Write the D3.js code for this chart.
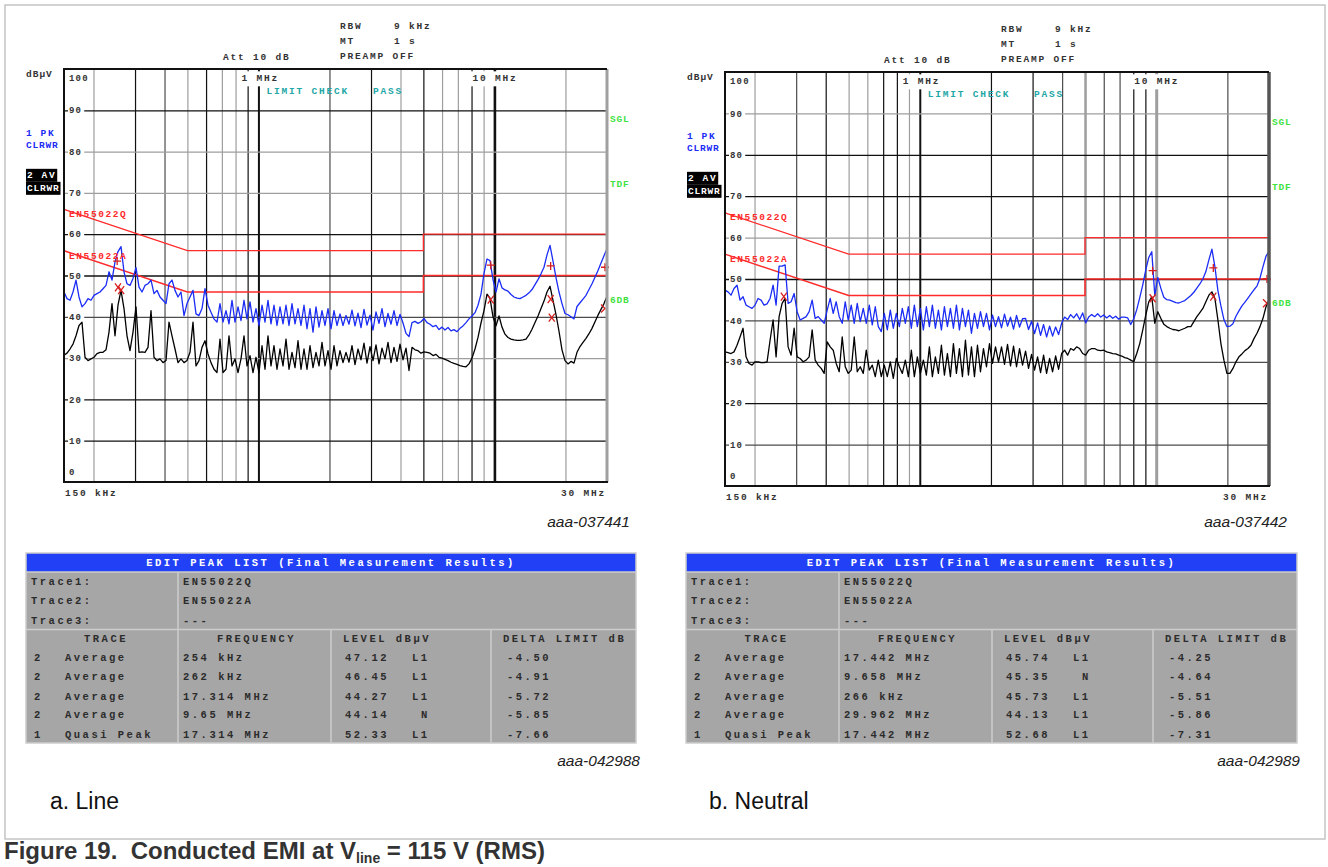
<!DOCTYPE html>
<html>
<head>
<meta charset="utf-8">
<script src="https://cdn.jsdelivr.net/npm/d3@7"></script>
<style>
  html, body { margin: 0; padding: 0; background: #fff; }
  svg { display: block; }
</style>
</head>
<body>
<svg id="fig" width="1328" height="867"></svg>
<script>
// ---------------------------------------------------------------------------
// Sweep settings of the receiver (log-spaced sweep points, 150 kHz .. 30 MHz)
// ---------------------------------------------------------------------------
const sweepStartMHz = 0.15;
const sweepStopMHz = 30;

// Grid: level lines (dBµV) and frequency lines (MHz)
const gridLevels = [10, 20, 30, 40, 50, 60, 70, 80, 90];
const levelLabels = [0, 10, 20, 30, 40, 50, 60, 70, 80, 90, 100];
const gridFreqs = [0.2, 0.3, 0.4, 0.5, 0.6, 0.7, 0.8, 0.9, 1, 2, 3, 4, 5, 6, 7, 8, 9, 10, 20];

// EN 55022 class B limits
const limitQFreq = [0.15, 0.5, 5, 5, 30];
const limitQLevel = [66, 56, 56, 60, 60];
const limitAFreq = [0.15, 0.5, 5, 5, 30];
const limitALevel = [56, 46, 46, 50, 50];

// Line: trace 1 (peak, blue) and trace 2 (average, black), one value per sweep point
const lineTracePeak = [
  46.0, 44.4, 44.0, 46.0, 48.9, 44.8, 42.4, 43.2, 44.4, 44.0,
  45.2, 45.6, 46.0, 46.8, 47.6, 50.9, 48.9, 53.3, 55.8, 57.0,
  50.9, 48.0, 47.6, 49.3, 51.9, 47.2, 46.0, 47.6, 48.0, 48.9,
  45.6, 46.4, 44.8, 44.0, 43.2, 48.0, 48.9, 46.4, 44.8, 46.0,
  40.3, 43.2, 44.8, 46.4, 40.7, 40.3, 42.0, 46.8, 42.8, 41.1,
  39.5, 38.7, 43.2, 38.7, 41.5, 38.3, 44.0, 38.7, 42.4, 39.1,
  44.0, 39.5, 43.6, 38.7, 42.0, 37.9, 42.8, 38.7, 44.0, 38.3,
  42.8, 37.9, 42.4, 38.3, 42.8, 37.9, 43.2, 38.3, 42.0, 37.9,
  42.8, 37.1, 42.0, 36.3, 42.4, 37.5, 41.5, 37.9, 42.0, 37.1,
  41.5, 37.9, 40.7, 37.9, 40.3, 38.2, 41.6, 37.8, 40.9, 37.4,
  41.8, 38.0, 40.4, 36.8, 41.2, 38.4, 42.0, 37.6, 40.8, 38.2,
  41.5, 37.9, 40.6, 38.5, 36.0, 35.2, 38.6, 38.9, 38.4, 38.8,
  39.6, 38.6, 38.2, 37.6, 37.9, 36.9, 37.5, 36.8, 37.4, 36.6,
  36.9, 36.4, 37.2, 37.8, 38.6, 39.5, 40.2, 41.0, 42.8, 45.5,
  50.5, 54.0, 53.6, 49.0, 46.0, 49.2, 47.0, 46.5, 46.2, 45.4,
  44.8, 44.5, 44.4, 44.8, 45.2, 45.8, 46.6, 47.8, 49.0, 50.4,
  52.0, 55.0, 57.3, 53.5, 49.5, 46.0, 43.2, 40.8, 40.5, 40.0,
  39.5, 42.5, 43.4, 44.3, 45.2, 46.6, 48.0, 49.6, 51.2, 53.0, 54.8, 56.5
];
const lineTraceAvg = [
  30.7, 31.2, 32.2, 33.4, 35.4, 37.9, 38.7, 30.2, 29.4, 29.8,
  30.2, 31.1, 31.4, 31.4, 32.0, 36.3, 43.2, 35.4, 42.8, 46.4,
  42.0, 35.4, 31.8, 36.3, 42.4, 31.4, 31.5, 31.4, 32.6, 41.5,
  30.2, 29.4, 29.8, 28.9, 29.4, 38.7, 35.4, 32.2, 28.9, 29.8,
  28.9, 29.4, 31.4, 38.7, 28.1, 29.4, 32.6, 34.2, 31.0, 28.9,
  27.3, 26.5, 34.6, 26.5, 27.3, 35.4, 28.1, 29.8, 26.5, 29.8,
  35.4, 28.1, 30.6, 26.5, 30.2, 26.5, 33.0, 27.3, 35.4, 28.1,
  33.0, 27.3, 32.2, 28.1, 34.6, 27.3, 31.4, 27.7, 34.2, 27.3,
  32.2, 27.3, 33.0, 27.7, 31.4, 28.1, 33.8, 28.1, 31.8, 27.3,
  33.0, 28.1, 31.8, 28.9, 31.4, 29.0, 33.0, 28.4, 32.2, 29.6,
  33.6, 28.8, 32.8, 29.4, 33.2, 28.6, 32.4, 29.8, 33.8, 28.9,
  32.6, 29.2, 33.4, 29.6, 32.4, 27.0, 32.6, 32.0, 31.8, 31.2,
  31.5, 31.4, 31.2, 30.6, 30.9, 30.2, 30.0, 29.7, 29.4, 29.0,
  28.7, 28.5, 28.2, 28.0, 27.9, 28.6, 30.0, 32.2, 35.0, 38.5,
  41.5, 45.5, 44.5, 40.0, 37.8, 40.2, 37.5, 35.8, 35.0, 34.6,
  34.4, 34.3, 34.3, 34.4, 34.6, 35.6, 37.0, 38.6, 40.2, 42.0,
  43.8, 46.0, 47.4, 44.0, 40.5, 36.5, 32.0, 29.4, 28.6, 29.2,
  28.8, 31.4, 32.8, 33.8, 34.8, 35.9, 37.2, 38.8, 40.4, 41.8, 43.2, 45.0
];

// Neutral: trace 1 (peak, blue) and trace 2 (average, black)
const neutralTracePeak = [
  47.3, 46.9, 46.1, 47.7, 48.5, 44.9, 45.7, 43.7, 43.3, 42.9,
  43.7, 45.3, 44.9, 43.7, 44.0, 45.3, 48.5, 43.7, 53.1, 53.1,
  53.4, 44.1, 44.5, 46.5, 42.1, 40.1, 40.5, 40.9, 42.1, 44.9,
  40.5, 40.9, 40.1, 39.3, 42.5, 45.3, 41.7, 44.5, 40.9, 39.3,
  44.5, 40.1, 43.7, 39.3, 44.1, 39.7, 42.9, 39.3, 43.7, 38.9,
  43.3, 38.5, 37.3, 41.7, 37.7, 42.5, 38.1, 41.7, 38.5, 42.9,
  39.3, 43.3, 38.1, 43.7, 38.5, 42.9, 37.7, 43.3, 38.5, 43.7,
  38.1, 42.5, 37.7, 43.3, 38.5, 42.9, 38.1, 43.7, 37.7, 42.9,
  38.5, 42.5, 36.9, 41.7, 38.1, 42.1, 38.5, 41.7, 37.7, 41.3,
  38.5, 40.9, 38.2, 41.5, 38.6, 40.8, 37.9, 41.2, 38.4, 40.4,
  40.5, 37.8, 39.8, 36.8, 39.4, 36.4, 39.0, 36.0, 38.6, 36.2,
  38.4, 36.6, 39.3, 40.8, 40.2, 41.4, 40.6, 41.6, 40.2, 41.8,
  39.4, 40.8, 41.4, 40.9, 41.6, 40.8, 41.3, 40.6, 41.2, 40.5,
  41.0, 40.3, 40.8, 40.8, 40.6, 39.0, 40.4, 42.6, 45.5, 48.6,
  52.2, 55.2, 56.6, 46.0, 50.4, 47.8, 45.6, 45.0, 44.9, 44.6,
  44.3, 44.2, 44.5, 44.8, 45.4, 46.0, 46.8, 47.8, 48.8, 50.0,
  51.8, 54.6, 57.2, 53.0, 47.2, 43.5, 40.2, 38.5, 38.6, 39.2,
  41.0, 42.3, 43.5, 44.4, 45.4, 46.4, 47.4, 48.3, 50.2, 53.0, 55.5, 56.6
];
const neutralTraceAvg = [
  32.4, 32.2, 32.0, 32.4, 34.0, 36.0, 38.1, 31.2, 29.6, 29.2,
  30.0, 30.0, 29.8, 29.8, 30.0, 35.2, 40.1, 31.2, 40.9, 44.1,
  45.3, 33.6, 31.6, 38.1, 31.2, 30.8, 30.0, 30.4, 31.2, 37.7,
  30.4, 29.2, 28.4, 27.2, 34.8, 33.6, 32.8, 29.6, 27.6, 36.0,
  28.8, 27.2, 28.0, 36.0, 27.6, 28.8, 27.2, 32.8, 28.0, 29.2,
  26.4, 30.4, 26.4, 29.2, 26.4, 30.0, 26.0, 30.8, 28.8, 27.2,
  30.4, 26.4, 32.8, 26.4, 31.2, 27.2, 30.4, 26.8, 33.6, 26.4,
  31.2, 27.2, 34.0, 26.8, 32.0, 26.4, 34.4, 27.2, 33.2, 26.4,
  35.2, 26.8, 33.6, 26.4, 34.0, 27.6, 33.2, 28.8, 34.4, 29.6,
  33.6, 30.0, 33.6, 29.4, 34.2, 29.0, 33.8, 28.8, 33.2, 29.2,
  32.6, 28.4, 31.8, 28.0, 31.2, 27.4, 31.6, 27.2, 30.8, 27.6,
  31.4, 28.2, 32.0, 32.8, 31.6, 33.2, 32.8, 33.6, 33.2, 32.0,
  31.6, 32.8, 33.2, 33.2, 32.8, 32.7, 32.8, 32.4, 32.2, 32.0,
  31.9, 31.6, 31.4, 31.0, 30.8, 30.4, 30.0, 32.0, 34.4, 37.7,
  41.3, 44.5, 45.7, 39.3, 42.1, 40.5, 39.1, 38.5, 38.1, 37.8,
  37.7, 37.5, 37.8, 38.1, 38.5, 38.5, 39.7, 40.9, 41.9, 42.9,
  44.5, 46.1, 46.9, 45.3, 40.1, 34.4, 30.4, 27.2, 27.2, 28.4,
  30.0, 31.2, 31.9, 32.7, 33.2, 34.0, 35.6, 36.9, 38.5, 40.5, 43.3, 44.9
];

// Final measurement results (peak list)
const lineRowTrace = [2, 2, 2, 2, 1];
const lineRowDetector = ["Average", "Average", "Average", "Average", "Quasi Peak"];
const lineRowFreq = [0.254, 0.262, 17.314, 9.65, 17.314];
const lineRowLevel = [47.12, 46.45, 44.27, 44.14, 52.33];
const lineRowPhase = ["L1", "L1", "L1", "N", "L1"];
const lineRowDelta = [-4.50, -4.91, -5.72, -5.85, -7.66];

const neutralRowTrace = [2, 2, 2, 2, 1];
const neutralRowDetector = ["Average", "Average", "Average", "Average", "Quasi Peak"];
const neutralRowFreq = [17.442, 9.658, 0.266, 29.962, 17.442];
const neutralRowLevel = [45.74, 45.35, 45.73, 44.13, 52.68];
const neutralRowPhase = ["L1", "N", "L1", "L1", "L1"];
const neutralRowDelta = [-4.25, -4.64, -5.51, -5.86, -7.31];

// Further marker positions on the traces, outside the top-five list
const lineExtraQPFreq = [0.252, 9.65, 30];
const lineExtraQPLevel = [53.5, 52.5, 52.0];
const lineExtraAVFreq = [17.5, 30];
const lineExtraAVLevel = [39.8, 42.0];
const neutralExtraQPFreq = [9.658, 30];
const neutralExtraQPLevel = [52.0, 50.0];
const neutralExtraAVFreq = [];
const neutralExtraAVLevel = [];

const traceNames = ["EN55022Q", "EN55022A", "---"];

// ---------------------------------------------------------------------------
// Styling
// ---------------------------------------------------------------------------
const MONO = '"Liberation Mono", "DejaVu Sans Mono", monospace';
const SANS = '"Liberation Sans", Arial, sans-serif';
const tone = { k: "#111", m: "#4c4c4c", g: "#9e9e9e" };
const BLUE = "#1b2cf5";
const RED = "#ff2a2a";
const TEAL = "#23a6a6";
const GREEN = "#3fe23f";

const svg = d3.select("#fig");

function sweepFreqs(n) {
  return d3.range(n).map(i => sweepStartMHz * Math.pow(sweepStopMHz / sweepStartMHz, i / (n - 1)));
}
function zip(a, b) { return a.map((v, i) => [v, b[i]]); }

function monoText(g, x, y, s, o = {}) {
  const t = g.append("text")
    .attr("x", x).attr("y", y).attr("dy", "0.35em")
    .attr("font-family", MONO).attr("font-weight", "bold")
    .attr("font-size", o.size || 9.5)
    .attr("letter-spacing", o.ls == null ? 1.8 : o.ls)
    .attr("fill", o.fill || "#222")
    .attr("text-anchor", o.anchor || "start")
    .text(s);
  if (o.bg) {
    const b = t.node().getBBox();
    g.insert("rect", () => t.node())
      .attr("x", b.x - (o.padL || 1)).attr("y", b.y - (o.padT || 0))
      .attr("width", b.width + (o.padL || 1) + (o.padR || 1))
      .attr("height", b.height + (o.padT || 0) * 2)
      .attr("fill", o.bg);
  }
  return t;
}

// ---------------------------------------------------------------------------
// Spectrum panel
// ---------------------------------------------------------------------------
function drawPanel(p) {
  const g = svg.append("g").attr("transform", `translate(${p.x0},${p.y0})`);
  const x = d3.scaleLog().domain([sweepStartMHz, sweepStopMHz]).range([0, p.w]);
  const y = d3.scaleLinear().domain([0, 100]).range([p.h, 0]);

  // frequency grid
  const vg = g.append("g").attr("transform", `translate(0,${p.h})`)
    .call(d3.axisBottom(x).tickValues(gridFreqs).tickSize(-p.h).tickFormat(""));
  vg.select(".domain").remove();
  vg.selectAll(".tick line")
    .attr("stroke", d => tone[p.vTone[String(d)]])
    .attr("stroke-width", d => p.vWidth[String(d)] || 1.2);

  // level grid
  const hg = g.append("g")
    .call(d3.axisLeft(y).tickValues(gridLevels).tickSize(-p.w).tickFormat(""));
  hg.select(".domain").remove();
  hg.selectAll(".tick line")
    .attr("stroke", d => tone[p.hTone[String(d)]])
    .attr("stroke-width", 1.3);

  // level labels sit on their grid lines
  levelLabels.forEach(v => {
    const yy = v === 100 ? 9 : v === 0 ? p.h - 10 : y(v);
    monoText(g, 5, yy, String(v), { size: 9, ls: 1.2, fill: "#333", bg: v > 0 && v < 100 ? "#fff" : null, padL: 1, padR: 2 });
  });

  // limit lines
  const lim = d3.line().x(d => x(d[0])).y(d => y(d[1]));
  g.append("path").attr("d", lim(zip(limitQFreq, limitQLevel)))
    .attr("fill", "none").attr("stroke", RED).attr("stroke-width", 1.3);
  g.append("path").attr("d", lim(zip(limitAFreq, limitALevel)))
    .attr("fill", "none").attr("stroke", RED).attr("stroke-width", 1.5);

  // traces
  const clipId = "clip-" + p.id;
  g.append("clipPath").attr("id", clipId).append("rect")
    .attr("x", 0).attr("y", 0).attr("width", p.w).attr("height", p.h);
  const tr = d3.line().x(d => x(d[0])).y(d => y(d[1]));
  const fAvg = sweepFreqs(p.avg.length);
  const fPk = sweepFreqs(p.peak.length);
  g.append("path").attr("clip-path", `url(#${clipId})`)
    .attr("d", tr(zip(fAvg, p.avg)))
    .attr("fill", "none").attr("stroke", "#000").attr("stroke-width", 1.3).attr("stroke-linejoin", "round");
  g.append("path").attr("clip-path", `url(#${clipId})`)
    .attr("d", tr(zip(fPk, p.peak)))
    .attr("fill", "none").attr("stroke", BLUE).attr("stroke-width", 1.3).attr("stroke-linejoin", "round");

  // markers: trace 1 -> "+", trace 2 -> "x" (">" at the right edge)
  const mk = g.append("g").attr("fill", "none").attr("stroke", "#d81e1e").attr("stroke-width", 1.3);
  function mark(tnum, f, lv) {
    let cx = x(f); const cy = y(lv);
    if (tnum === 1) {
      cx = Math.min(cx, p.w - 2);
      mk.append("path").attr("d", `M${cx - 4},${cy}H${cx + 4}M${cx},${cy - 4}V${cy + 4}`);
    } else if (f >= 29.5) {
      cx = p.w - 4;
      mk.append("path").attr("d", `M${cx - 2},${cy - 4}L${cx + 2},${cy}L${cx - 2},${cy + 4}`);
    } else {
      mk.append("path").attr("d", `M${cx - 3},${cy - 4}L${cx + 3},${cy + 4}M${cx + 3},${cy - 4}L${cx - 3},${cy + 4}`);
    }
  }
  p.rowTrace.forEach((t, i) => mark(t, p.rowFreq[i], p.rowLevel[i]));
  p.extraQPFreq.forEach((f, i) => mark(1, f, p.extraQPLevel[i]));
  p.extraAVFreq.forEach((f, i) => mark(2, f, p.extraAVLevel[i]));

  // plot frame
  g.append("line").attr("x1", p.w).attr("x2", p.w).attr("y1", 0).attr("y2", p.h)
    .attr("stroke", p.edge).attr("stroke-width", p.edgeWidth);
  g.append("path").attr("d", `M${p.w},0H0V${p.h}H${p.w + 1}`)
    .attr("fill", "none").attr("stroke", "#111").attr("stroke-width", 2);

  // annotations inside the plot
  monoText(g, x(1) - 17, 9, "1 MHz", { fill: "#333", bg: "#fff", padL: 2, padR: 2, padT: 2 });
  monoText(g, x(10) - 22, 9, "10 MHz", { fill: "#333", bg: "#fff", padL: 2, padR: 2, padT: 2 });
  monoText(g, x(1) + 8, 22, "LIMIT CHECK", { fill: TEAL });
  monoText(g, 309, 22, "PASS", { fill: TEAL });
  monoText(g, 5, 145, "EN55022Q", { fill: RED, ls: 1.6 });
  monoText(g, 5, 187, "EN55022A", { fill: RED, ls: 1.6 });

  // settings header
  monoText(g, 276, -43, "RBW", { fill: "#333" });
  monoText(g, 330, -43, "9 kHz", { fill: "#333" });
  monoText(g, 276, -28, "MT", { fill: "#333" });
  monoText(g, 330, -28, "1 s", { fill: "#333" });
  monoText(g, 276, -13, "PREAMP OFF", { fill: "#333" });
  monoText(g, 159, -12.5, "Att 10 dB", { fill: "#333" });

  // left-hand trace legend
  monoText(g, -38, 5, "dBµV", { fill: "#333", ls: 1.0 });
  monoText(g, -38, 63.5, "1 PK", { fill: BLUE, ls: 1.6 });
  monoText(g, -38, 76, "CLRWR", { fill: BLUE, ls: 0.8 });
  monoText(g, -37, 105.5, "2 AV", { fill: "#fff", ls: 1.6, bg: "#000", padL: 1, padR: 0, padT: 1 });
  monoText(g, -37, 118.5, "CLRWR", { fill: "#fff", ls: 0.8, bg: "#000", padL: 1, padR: 0, padT: 1 });

  // right-hand status labels
  monoText(g, p.w + 3, 50, "SGL", { fill: GREEN, ls: 0.8 });
  monoText(g, p.w + 3, 114.5, "TDF", { fill: GREEN, ls: 0.8 });
  monoText(g, p.w + 3, 230.5, "6DB", { fill: GREEN, ls: 0.8 });

  // frequency span labels
  monoText(g, 1, p.h + 10.5, "150 kHz", { fill: "#333" });
  monoText(g, p.w - 46, p.h + 10.5, "30 MHz", { fill: "#333" });

  // figure id
  g.append("text").attr("x", p.w + p.idDX).attr("y", p.h + p.idDY)
    .attr("font-family", SANS).attr("font-style", "italic").attr("font-size", 15.5)
    .attr("fill", "#222").attr("text-anchor", "end").text(p.figId);
}

// ---------------------------------------------------------------------------
// Peak list table
// ---------------------------------------------------------------------------
function fmtFreq(f) {
  return f < 1 ? `${Math.round(f * 1000)} kHz` : `${f} MHz`;
}
function drawTable(t) {
  const g = svg.append("g");
  const c = t.cols;
  const x0 = c[0], x1 = c[c.length - 1];
  const rowY = t.rowY;
  const top = 553, barB = 572, mid = 629.5, bot = 743;
  g.append("rect").attr("x", x0).attr("y", top).attr("width", x1 - x0).attr("height", bot - top).attr("fill", "#a6a6a6");
  g.append("rect").attr("x", x0).attr("y", top).attr("width", x1 - x0).attr("height", barB - top).attr("fill", "#2240f6");
  const ln = g.append("g").attr("stroke", "#cdcdcd").attr("stroke-width", 1.5);
  ln.append("rect").attr("x", x0).attr("y", top).attr("width", x1 - x0).attr("height", bot - top).attr("fill", "none");
  ln.append("line").attr("x1", x0).attr("x2", x1).attr("y1", barB).attr("y2", barB);
  ln.append("line").attr("x1", x0).attr("x2", x1).attr("y1", mid).attr("y2", mid);
  ln.append("line").attr("x1", c[1]).attr("x2", c[1]).attr("y1", barB).attr("y2", bot);
  ln.append("line").attr("x1", c[2]).attr("x2", c[2]).attr("y1", mid).attr("y2", bot);
  ln.append("line").attr("x1", c[3]).attr("x2", c[3]).attr("y1", mid).attr("y2", bot);

  const o = { size: 10.5, ls: 2.5, fill: "#2c2c2c" };
  monoText(g, (x0 + x1) / 2, 562.5, "EDIT PEAK LIST (Final Measurement Results)", { ...o, fill: "#fff", anchor: "middle" });
  ["Trace1:", "Trace2:", "Trace3:"].forEach((s, i) => {
    monoText(g, x0 + 5, rowY[i], s, o);
    monoText(g, c[1] + 5, rowY[i], traceNames[i], o);
  });
  monoText(g, (c[0] + c[1]) / 2 + 4, 638, "TRACE", { ...o, anchor: "middle" });
  monoText(g, (c[1] + c[2]) / 2 + 2, 638, "FREQUENCY", { ...o, anchor: "middle" });
  monoText(g, c[2] + 12, 638, "LEVEL dBµV", o);
  monoText(g, c[3] + 12, 638, "DELTA LIMIT dB", o);

  t.trace.forEach((tn, i) => {
    const yy = rowY[3 + i];
    monoText(g, x0 + 8, yy, String(tn), o);
    monoText(g, x0 + 39, yy, t.detector[i], o);
    monoText(g, c[1] + 5, yy, fmtFreq(t.freq[i]), o);
    monoText(g, c[2] + 14, yy, t.level[i].toFixed(2), o);
    monoText(g, c[2] + (t.phase[i].length === 1 ? 90 : 81), yy, t.phase[i], o);
    monoText(g, c[3] + 16, yy, t.delta[i].toFixed(2), o);
  });

  g.append("text").attr("x", t.idX).attr("y", 766)
    .attr("font-family", SANS).attr("font-style", "italic").attr("font-size", 15.5)
    .attr("fill", "#222").attr("text-anchor", "end").text(t.figId);
}

// ---------------------------------------------------------------------------
// Figure frame, panels, tables, captions
// ---------------------------------------------------------------------------
svg.append("rect").attr("x", 5).attr("y", 5).attr("width", 1320).attr("height", 834)
  .attr("fill", "none").attr("stroke", "#c4c4c4").attr("stroke-width", 1.5);

drawPanel({
  id: "line", x0: 64, y0: 69, w: 543, h: 413,
  peak: lineTracePeak, avg: lineTraceAvg,
  rowTrace: lineRowTrace, rowFreq: lineRowFreq, rowLevel: lineRowLevel,
  extraQPFreq: lineExtraQPFreq, extraQPLevel: lineExtraQPLevel,
  extraAVFreq: lineExtraAVFreq, extraAVLevel: lineExtraAVLevel,
  vTone: { "0.2": "g", "0.3": "k", "0.4": "m", "0.5": "g", "0.6": "k", "0.7": "g", "0.8": "g", "0.9": "k", "1": "k",
           "2": "m", "3": "k", "4": "g", "5": "k", "6": "g", "7": "g", "8": "k", "9": "g", "10": "k", "20": "g" },
  vWidth: { "1": 2, "10": 2.6 },
  hTone: { "10": "k", "20": "k", "30": "g", "40": "m", "50": "k", "60": "k", "70": "g", "80": "g", "90": "k" },
  edge: "#a0a0a0", edgeWidth: 3,
  figId: "aaa-037441", idDX: 23, idDY: 44.5
});

drawPanel({
  id: "neutral", x0: 725, y0: 72, w: 544, h: 414,
  peak: neutralTracePeak, avg: neutralTraceAvg,
  rowTrace: neutralRowTrace, rowFreq: neutralRowFreq, rowLevel: neutralRowLevel,
  extraQPFreq: neutralExtraQPFreq, extraQPLevel: neutralExtraQPLevel,
  extraAVFreq: neutralExtraAVFreq, extraAVLevel: neutralExtraAVLevel,
  vTone: { "0.2": "g", "0.3": "m", "0.4": "k", "0.5": "g", "0.6": "g", "0.7": "k", "0.8": "k", "0.9": "g", "1": "k",
           "2": "k", "3": "k", "4": "m", "5": "g", "6": "m", "7": "m", "8": "k", "9": "k", "10": "g", "20": "m" },
  vWidth: { "1": 2, "5": 2.5, "10": 3 },
  hTone: { "10": "m", "20": "k", "30": "m", "40": "m", "50": "k", "60": "g", "70": "k", "80": "k", "90": "g" },
  edge: "#555", edgeWidth: 3.5,
  figId: "aaa-037442", idDX: 18, idDY: 40.5
});

const tableRowY = [581, 600.5, 620, 657.3, 676.7, 696, 714.7, 734];
drawTable({
  cols: [26, 178, 331, 491, 636], rowY: tableRowY,
  trace: lineRowTrace, detector: lineRowDetector, freq: lineRowFreq,
  level: lineRowLevel, phase: lineRowPhase, delta: lineRowDelta,
  figId: "aaa-042988", idX: 640
});
drawTable({
  cols: [686, 839, 992, 1153, 1297], rowY: tableRowY,
  trace: neutralRowTrace, detector: neutralRowDetector, freq: neutralRowFreq,
  level: neutralRowLevel, phase: neutralRowPhase, delta: neutralRowDelta,
  figId: "aaa-042989", idX: 1300
});

svg.append("text").attr("x", 50).attr("y", 809).attr("font-family", SANS)
  .attr("font-size", 23).attr("fill", "#111").text("a. Line");
svg.append("text").attr("x", 709).attr("y", 809).attr("font-family", SANS)
  .attr("font-size", 23).attr("fill", "#111").text("b. Neutral");

const cap = svg.append("text").attr("x", 4).attr("y", 859).attr("font-family", SANS)
  .attr("font-size", 24).attr("font-weight", "bold").attr("fill", "#333");
cap.append("tspan").text("Figure 19.\u00a0\u00a0Conducted EMI at V");
cap.append("tspan").attr("font-size", 14).attr("dy", 3.5).text("line");
cap.append("tspan").attr("dy", -3.5).text(" = 115 V (RMS)");
</script>
</body>
</html>
